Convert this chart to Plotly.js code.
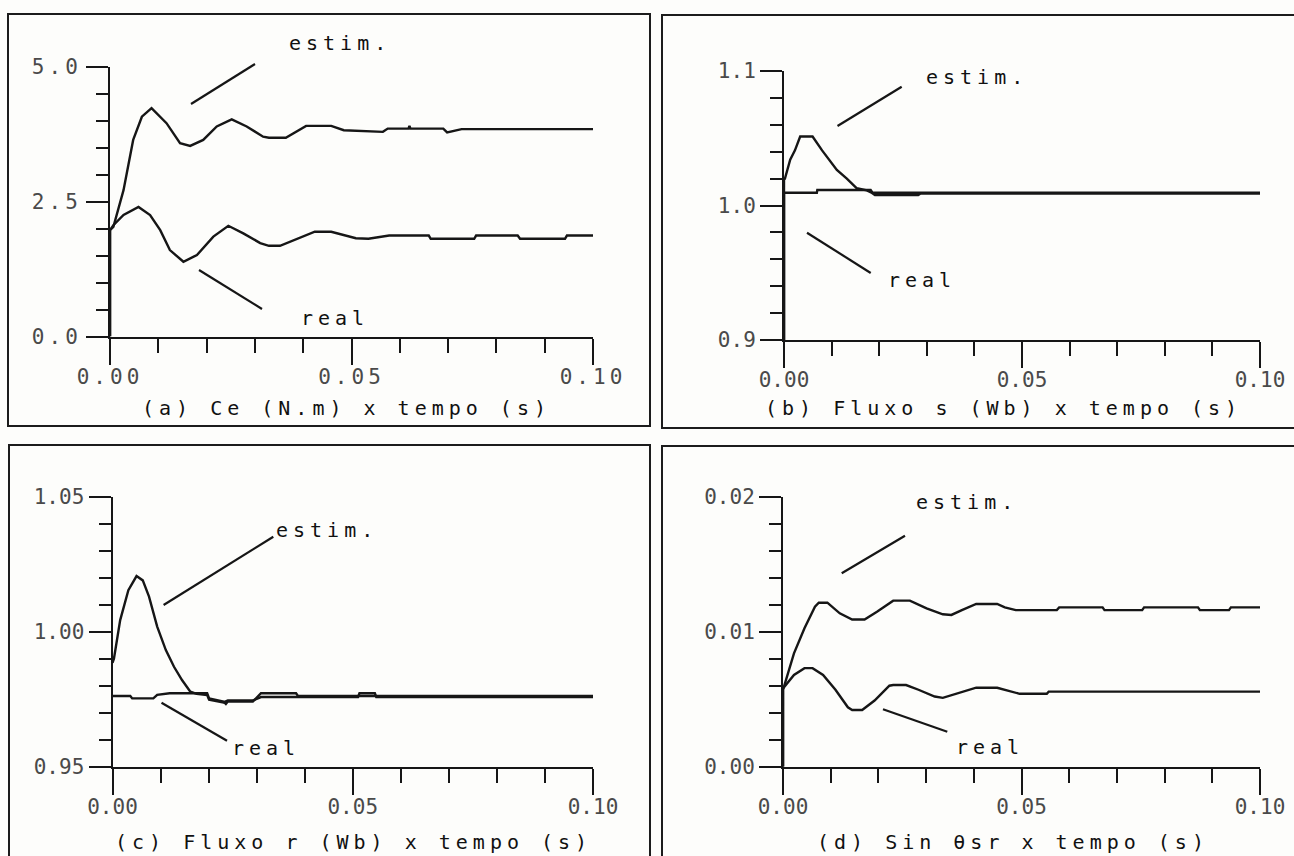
<!DOCTYPE html>
<html>
<head>
<meta charset="utf-8">
<script src="https://cdn.plot.ly/plotly-3.0.1.min.js"></script>
<style>
  html, body { margin: 0; padding: 0; background: #fdfdfb; }
  #chart { width: 1294px; height: 856px; }
  .xtick text, .ytick text { letter-spacing: 4px; }
  text.annotation-text { letter-spacing: 5px; }
</style>
</head>
<body>
<div id="chart"></div>
<script>
// ---------------- DATA ----------------
// (a) Ce (N.m) x tempo (s)
const tEstimA = [0, 0, 0.0007, 0.0028, 0.0048, 0.0066, 0.0086, 0.0117, 0.0145, 0.0166, 0.0193, 0.0221, 0.0252, 0.0283, 0.0317, 0.0329, 0.0364, 0.0406, 0.0458, 0.0484, 0.0565, 0.0575, 0.0618, 0.0620, 0.0622, 0.0690, 0.0698, 0.0728, 0.1];
const vEstimA = [0, 1.97, 2.03, 2.71, 3.64, 4.07, 4.23, 3.95, 3.58, 3.53, 3.64, 3.89, 4.02, 3.89, 3.70, 3.68, 3.68, 3.90, 3.90, 3.82, 3.79, 3.85, 3.85, 3.90, 3.85, 3.85, 3.78, 3.84, 3.84];
const tRealA = [0, 0, 0.0007, 0.0028, 0.0059, 0.0083, 0.0104, 0.0124, 0.0152, 0.0180, 0.0214, 0.0245, 0.0276, 0.0311, 0.0329, 0.0352, 0.0424, 0.0458, 0.0509, 0.0535, 0.0578, 0.0660, 0.0664, 0.0754, 0.0758, 0.0844, 0.0849, 0.0942, 0.0946, 0.1];
const vRealA = [0, 1.97, 2.06, 2.25, 2.40, 2.25, 1.97, 1.60, 1.385, 1.51, 1.85, 2.05, 1.91, 1.73, 1.68, 1.68, 1.94, 1.94, 1.82, 1.81, 1.87, 1.87, 1.81, 1.81, 1.87, 1.87, 1.81, 1.81, 1.87, 1.87];

// (b) Fluxo s (Wb) x tempo (s)
const tEstimB = [0, 0, 0.0002, 0.0013, 0.0023, 0.0034, 0.0060, 0.0080, 0.0111, 0.0132, 0.0153, 0.0174, 0.0185, 0.0191, 0.0282, 0.0286, 0.1];
const vEstimB = [0.9, 1.020, 1.020, 1.034, 1.041, 1.0513, 1.0513, 1.041, 1.0264, 1.020, 1.0128, 1.0112, 1.0093, 1.0078, 1.0078, 1.0088, 1.0088];
const tRealB = [0, 0, 0.0069, 0.0070, 0.0182, 0.0186, 0.1];
const vRealB = [0.9, 1.0095, 1.0095, 1.0115, 1.0115, 1.0095, 1.0095];

// (c) Fluxo r (Wb) x tempo (s)
const tEstimC = [0, 0.0003, 0.0016, 0.0033, 0.0050, 0.0063, 0.0076, 0.0093, 0.0111, 0.0128, 0.0145, 0.0162, 0.0175, 0.0197, 0.0201, 0.0231, 0.0240, 0.0292, 0.0309, 0.0511, 0.0514, 0.0546, 0.0549, 0.1];
const vEstimC = [0.9885, 0.990, 1.0043, 1.0154, 1.0206, 1.019, 1.013, 1.0019, 0.9932, 0.987, 0.982, 0.9778, 0.9770, 0.9765, 0.9748, 0.9738, 0.9745, 0.9745, 0.9758, 0.9758, 0.9772, 0.9772, 0.9758, 0.9758];
const tRealC = [0, 0.0037, 0.0041, 0.0085, 0.0093, 0.0119, 0.0197, 0.0201, 0.0231, 0.0236, 0.0240, 0.0292, 0.0309, 0.0382, 0.0386, 0.1];
const vRealC = [0.9762, 0.9762, 0.9753, 0.9753, 0.9766, 0.9772, 0.9772, 0.9753, 0.9741, 0.9732, 0.9741, 0.9741, 0.9772, 0.9772, 0.9762, 0.9762];

// (d) Sin θsr x tempo (s)
const tEstimD = [0, 0, 0.0001, 0.0023, 0.0045, 0.0067, 0.0075, 0.0093, 0.0119, 0.0145, 0.0171, 0.0197, 0.0231, 0.0266, 0.0301, 0.0335, 0.0353, 0.0375, 0.0405, 0.0449, 0.0465, 0.0488, 0.0574, 0.0579, 0.0670, 0.0674, 0.0753, 0.0757, 0.0870, 0.0874, 0.0935, 0.0939, 0.1];
const vEstimD = [0, 0.0058, 0.0058, 0.0084, 0.01025, 0.01185, 0.01215, 0.01215, 0.01136, 0.0109, 0.0109, 0.01148, 0.0123, 0.0123, 0.01173, 0.01129, 0.01124, 0.0116, 0.01205, 0.01205, 0.0118, 0.0116, 0.0116, 0.0118, 0.0118, 0.0116, 0.0116, 0.0118, 0.0118, 0.0116, 0.0116, 0.0118, 0.0118];
const tRealD = [0, 0, 0.0023, 0.0045, 0.0062, 0.0084, 0.0110, 0.0136, 0.0145, 0.0166, 0.0192, 0.0223, 0.0231, 0.0258, 0.0284, 0.0318, 0.0335, 0.0362, 0.0405, 0.0449, 0.0475, 0.0496, 0.0553, 0.0557, 0.1];
const vRealD = [0, 0.0058, 0.0068, 0.0073, 0.0073, 0.0068, 0.0057, 0.0044, 0.0042, 0.0042, 0.0049, 0.0060, 0.00605, 0.00605, 0.0057, 0.0052, 0.0051, 0.0054, 0.00585, 0.00585, 0.0056, 0.0054, 0.0054, 0.00556, 0.00556];

// Captions and labels
const captions = ["(a) Ce (N.m) x tempo (s)", "(b) Fluxo s (Wb) x tempo (s)", "(c) Fluxo r (Wb) x tempo (s)", "(d) Sin \u03B8sr x tempo (s)"];
const labelEstim = "estim.";
const labelReal = "real";

// ---------------- LAYOUT HELPERS ----------------
const W = 1294, H = 856;
const fx = x => x / W;
const fy = y => 1 - y / H;
const INK = '#161616';
const MONO = 'DejaVu Sans Mono, Liberation Mono, monospace';

function mkX(x0, x1, anchor) {
  return {
    domain: [fx(x0), fx(x1)], anchor: anchor, range: [0, 0.1],
    tick0: 0, dtick: 0.05, tickformat: '.2f',
    ticks: 'outside', ticklen: 26, tickwidth: 2, tickcolor: INK,
    ticklabelstandoff: -6,
    showline: true, linewidth: 2, linecolor: INK,
    showgrid: false, zeroline: false, fixedrange: true,
    minor: {dtick: 0.01, ticks: 'outside', ticklen: 14, tickwidth: 2, tickcolor: INK, showgrid: false},
    tickfont: {family: MONO, size: 21, color: '#4a4a4a'}
  };
}
function mkY(yb, yt, anchor, range, dtick, minor, fmt) {
  return {
    domain: [fy(yb), fy(yt)], anchor: anchor, range: range,
    tick0: range[0], dtick: dtick, tickformat: fmt,
    ticks: 'outside', ticklen: 22, tickwidth: 2, tickcolor: INK,
    showline: true, linewidth: 2, linecolor: INK,
    showgrid: false, zeroline: false, fixedrange: true,
    minor: {dtick: minor, ticks: 'outside', ticklen: 12, tickwidth: 2, tickcolor: INK, showgrid: false},
    tickfont: {family: MONO, size: 21, color: '#4a4a4a'}
  };
}
function line(t, v, xa, ya) {
  return {x: t, y: v, xaxis: xa, yaxis: ya, type: 'scatter', mode: 'lines',
          line: {color: INK, width: 2.4}, showlegend: false, hoverinfo: 'skip'};
}
const data = [
  line(tEstimA, vEstimA, 'x', 'y'), line(tRealA, vRealA, 'x', 'y'),
  line(tEstimB, vEstimB, 'x2', 'y2'), line(tRealB, vRealB, 'x2', 'y2'),
  line(tEstimC, vEstimC, 'x3', 'y3'), line(tRealC, vRealC, 'x3', 'y3'),
  line(tEstimD, vEstimD, 'x4', 'y4'), line(tRealD, vRealD, 'x4', 'y4')
];

function box(x0, y0, x1, y1) {
  return {type: 'rect', xref: 'paper', yref: 'paper', x0: fx(x0), x1: fx(x1), y0: fy(y1), y1: fy(y0),
          line: {color: '#1c1c1c', width: 2}, fillcolor: 'rgba(0,0,0,0)', layer: 'below'};
}
function seg(x0, y0, x1, y1) {
  return {type: 'line', xref: 'paper', yref: 'paper', x0: fx(x0), y0: fy(y0), x1: fx(x1), y1: fy(y1),
          line: {color: INK, width: 2.2}};
}
function txt(s, x, y, size) {
  return {text: s, xref: 'paper', yref: 'paper', x: fx(x), y: fy(y), xanchor: 'center', yanchor: 'middle',
          showarrow: false, font: {family: MONO, size: size, color: '#111'}};
}

const layout = {
  width: W, height: H, margin: {l: 0, r: 0, t: 0, b: 0},
  paper_bgcolor: '#fdfdfb', plot_bgcolor: 'rgba(0,0,0,0)', showlegend: false,
  xaxis: mkX(110, 593, 'y'),
  yaxis: mkY(336.5, 66.5, 'x', [0, 5], 2.5, 0.5, '.1f'),
  xaxis2: mkX(784, 1260, 'y2'),
  yaxis2: mkY(340, 71, 'x2', [0.9, 1.1], 0.1, 0.02, '.1f'),
  xaxis3: mkX(112.5, 593, 'y3'),
  yaxis3: mkY(766.7, 496.7, 'x3', [0.95, 1.05], 0.05, 0.01, '.2f'),
  xaxis4: mkX(783, 1260, 'y4'),
  yaxis4: mkY(766.7, 496.7, 'x4', [0, 0.02], 0.01, 0.002, '.2f'),
  shapes: [
    box(8, 14, 650, 426), box(662, 15, 1300, 428),
    box(9, 445, 650, 880), box(662, 446, 1300, 880),
    seg(191, 104, 255, 64), seg(199, 270, 262, 309),
    seg(837.5, 126, 901.7, 86.7), seg(807, 232.7, 870.7, 273),
    seg(163.6, 605, 273.3, 536.7), seg(161.5, 702.7, 227, 740.7),
    seg(841.7, 573.3, 905, 535.7), seg(883, 709.3, 947.3, 731.7)
  ],
  annotations: [
    txt(labelEstim, 340, 43, 20), txt(labelReal, 335, 318, 20),
    txt(labelEstim, 977, 77, 20), txt(labelReal, 922, 280, 20),
    txt(labelEstim, 327, 530, 20), txt(labelReal, 266, 748, 20),
    txt(labelEstim, 967, 502, 20), txt(labelReal, 990, 747, 20),
    txt(captions[0], 346, 408, 20), txt(captions[1], 1003, 408, 20),
    txt(captions[2], 353, 842, 20), txt(captions[3], 1013, 842, 20)
  ]
};

Plotly.newPlot('chart', data, layout, {staticPlot: true, displayModeBar: false});
</script>
</body>
</html>
